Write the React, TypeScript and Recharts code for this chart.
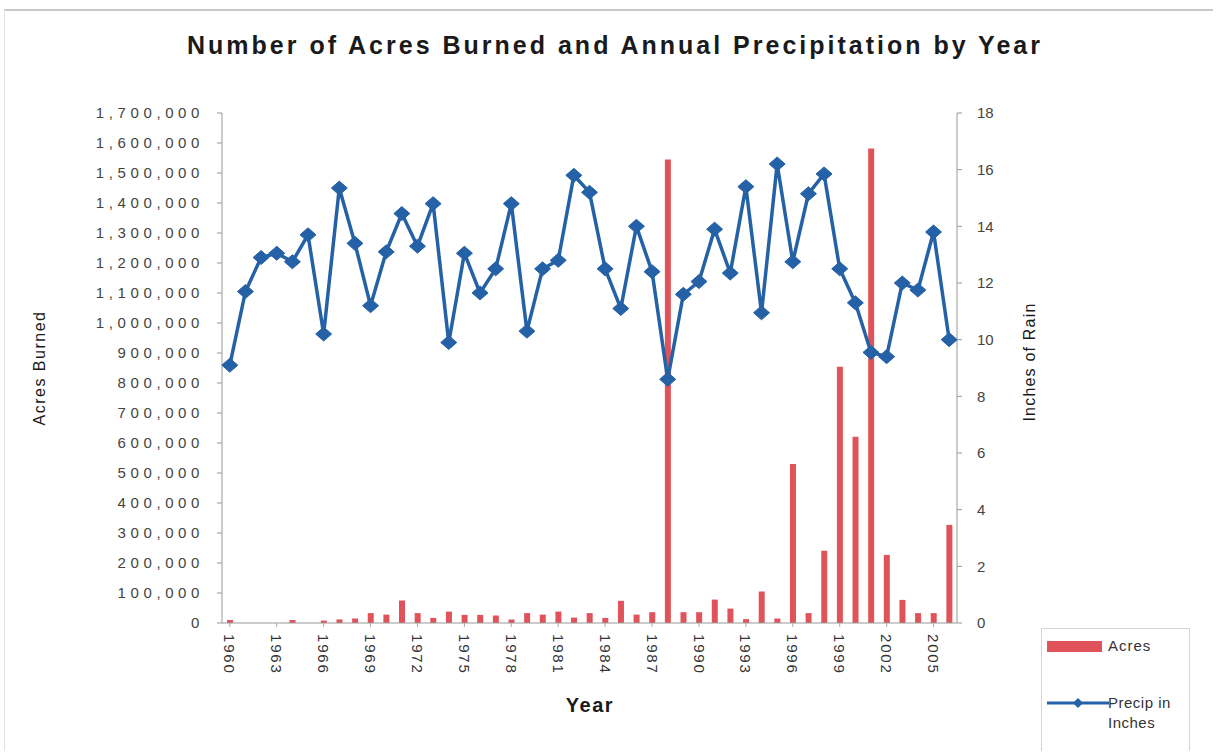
import React from "react";
import {
  ComposedChart,
  Bar,
  Line,
  XAxis,
  YAxis,
} from "recharts";

const YEARS = [
  "1960", "1961", "1962", "1963", "1964", "1965", "1966", "1967", "1968", "1969",
  "1970", "1971", "1972", "1973", "1974", "1975", "1976", "1977", "1978", "1979",
  "1980", "1981", "1982", "1983", "1984", "1985", "1986", "1987", "1988", "1989",
  "1990", "1991", "1992", "1993", "1994", "1995", "1996", "1997", "1998", "1999",
  "2000", "2001", "2002", "2003", "2004", "2005", "2006",
];

const ACRES = [
  10000, 0, 0, 0, 10000, 0, 8000, 12000, 15000, 33000,
  28000, 75000, 33000, 17000, 38000, 27000, 27000, 25000, 12000, 33000,
  28000, 38000, 18000, 33000, 17000, 74000, 28000, 36000, 1545000, 36000,
  36000, 78000, 48000, 13000, 105000, 15000, 530000, 33000, 241000, 854000,
  621000, 1582000, 227000, 77000, 33000, 33000, 327000,
];

const PRECIP = [
  9.1, 11.7, 12.9, 13.05, 12.75, 13.7, 10.2, 15.35, 13.4, 11.2,
  13.1, 14.45, 13.3, 14.8, 9.9, 13.05, 11.65, 12.5, 14.8, 10.3,
  12.5, 12.8, 15.8, 15.2, 12.5, 11.1, 14.0, 12.4, 8.6, 11.6,
  12.05, 13.9, 12.35, 15.4, 10.95, 16.2, 12.75, 15.15, 15.85, 12.5,
  11.3, 9.55, 9.4, 12.0, 11.75, 13.8, 10.0,
];

const LEFT_TICKS = [
  0, 100000, 200000, 300000, 400000, 500000, 600000, 700000, 800000,
  900000, 1000000, 1100000, 1200000, 1300000, 1400000, 1500000, 1600000, 1700000,
];
const RIGHT_TICKS = [0, 2, 4, 6, 8, 10, 12, 14, 16, 18];

const data = YEARS.map((year, i) => ({ year, acres: ACRES[i], precip: PRECIP[i] }));

const BAR_RED = "#e0535b";
const LINE_BLUE = "#2561a6";
const FONT = "'Liberation Sans', Arial, sans-serif";

function Diamond(props: any) {
  const { cx, cy, index } = props;
  if (cx == null || cy == null) return <g key={index} />;
  return (
    <path
      key={index}
      d={`M${cx},${cy - 7} L${cx + 8},${cy} L${cx},${cy + 7} L${cx - 8},${cy} Z`}
      fill={LINE_BLUE}
      stroke={LINE_BLUE}
      strokeWidth={1}
    />
  );
}

function YearTick(props: any) {
  const { x, y, payload } = props;
  return (
    <g transform={`translate(${x},${y})`}>
      <text
        transform="rotate(90)"
        x={5}
        y={0}
        dy="0.36em"
        textAnchor="start"
        fontSize={15}
        fill="#333"
        fontFamily={FONT}
        style={{ letterSpacing: "1.8px" }}
      >
        {payload.value}
      </text>
    </g>
  );
}

function LeftTick(props: any) {
  const { x, y, payload } = props;
  return (
    <text
      x={x + 4}
      y={y}
      dy="0.36em"
      textAnchor="end"
      fontSize={15}
      fill="#444"
      fontFamily={FONT}
      style={{ letterSpacing: "4.6px" }}
    >
      {Number(payload.value).toLocaleString("en-US")}
    </text>
  );
}

function RightTick(props: any) {
  const { x, y, payload } = props;
  return (
    <text
      x={x}
      y={y}
      dy="0.36em"
      textAnchor="start"
      fontSize={15}
      fill="#444"
      fontFamily={FONT}
    >
      {payload.value}
    </text>
  );
}

export default function App() {
  return (
    <div style={{ position: "absolute", left: 0, top: 0, width: 1220, height: 755, background: "#fff", fontFamily: FONT }}>
      <div
        style={{
          position: "absolute", left: 4, top: 9, width: 1208, height: 740,
          borderTop: "2px solid #c8c8c8", borderLeft: "1px solid #e2e2e2",
        }}
      />
      <ComposedChart
        width={1220}
        height={755}
        data={data}
        margin={{ top: 113, right: 200, bottom: 72, left: 0 }}
      >
        <XAxis
          dataKey="year"
          interval={2}
          height={60}
          tick={<YearTick />}
          axisLine={{ stroke: "#999" }}
          tickLine={{ stroke: "#aaa" }}
          tickSize={4}
        />
        <YAxis
          yAxisId="left"
          orientation="left"
          width={222}
          domain={[0, 1700000]}
          ticks={LEFT_TICKS}
          interval={0}
          tick={<LeftTick />}
          axisLine={{ stroke: "#999" }}
          tickLine={{ stroke: "#999" }}
          tickSize={5}
          tickMargin={17}
        />
        <YAxis
          yAxisId="right"
          orientation="right"
          width={63}
          domain={[0, 18]}
          ticks={RIGHT_TICKS}
          interval={0}
          tick={<RightTick />}
          axisLine={{ stroke: "#999" }}
          tickLine={{ stroke: "#999" }}
          tickSize={5}
          tickMargin={15}
        />
        <Bar yAxisId="left" dataKey="acres" fill={BAR_RED} barSize={6} isAnimationActive={false} />
        <Line
          yAxisId="right"
          dataKey="precip"
          stroke={LINE_BLUE}
          strokeWidth={3.5}
          dot={Diamond}
          activeDot={false}
          isAnimationActive={false}
        />
      </ComposedChart>

      <div
        style={{
          position: "absolute", left: 0, top: 31, width: 1230, textAlign: "center",
          fontSize: 25, fontWeight: "bold", letterSpacing: "3px", color: "#1a1a1a",
        }}
      >
        Number of Acres Burned and Annual Precipitation by Year
      </div>

      <div
        style={{
          position: "absolute", left: 40, top: 368, transform: "translate(-50%,-50%) rotate(-90deg)",
          fontSize: 16, letterSpacing: "1.5px", color: "#1a1a1a", whiteSpace: "nowrap",
        }}
      >
        Acres Burned
      </div>

      <div
        style={{
          position: "absolute", left: 1030, top: 362, transform: "translate(-50%,-50%) rotate(-90deg)",
          fontSize: 16, letterSpacing: "1.2px", color: "#1a1a1a", whiteSpace: "nowrap",
        }}
      >
        Inches of Rain
      </div>

      <div
        style={{
          position: "absolute", left: 590, top: 705, transform: "translate(-50%,-50%)",
          fontSize: 20, fontWeight: "bold", letterSpacing: "1.5px", color: "#1a1a1a",
        }}
      >
        Year
      </div>

      <div
        style={{
          position: "absolute", left: 1041, top: 628, width: 147, height: 122,
          border: "1px solid #d4d4d4", borderBottom: "none", color: "#333", fontSize: 15,
        }}
      >
        <div style={{ position: "absolute", left: 5, top: 12, width: 55, height: 11, background: BAR_RED }} />
        <div style={{ position: "absolute", left: 66, top: 8, letterSpacing: "1px" }}>Acres</div>
        <svg style={{ position: "absolute", left: 5, top: 66 }} width={62} height={16}>
          <line x1={0} y1={8} x2={62} y2={8} stroke={LINE_BLUE} strokeWidth={3} />
          <path d="M31,3 L36,8 L31,13 L26,8 Z" fill={LINE_BLUE} />
        </svg>
        <div style={{ position: "absolute", left: 66, top: 64, lineHeight: "20px", letterSpacing: "0.5px" }}>
          Precip in
          <br />
          Inches
        </div>
      </div>
    </div>
  );
}
